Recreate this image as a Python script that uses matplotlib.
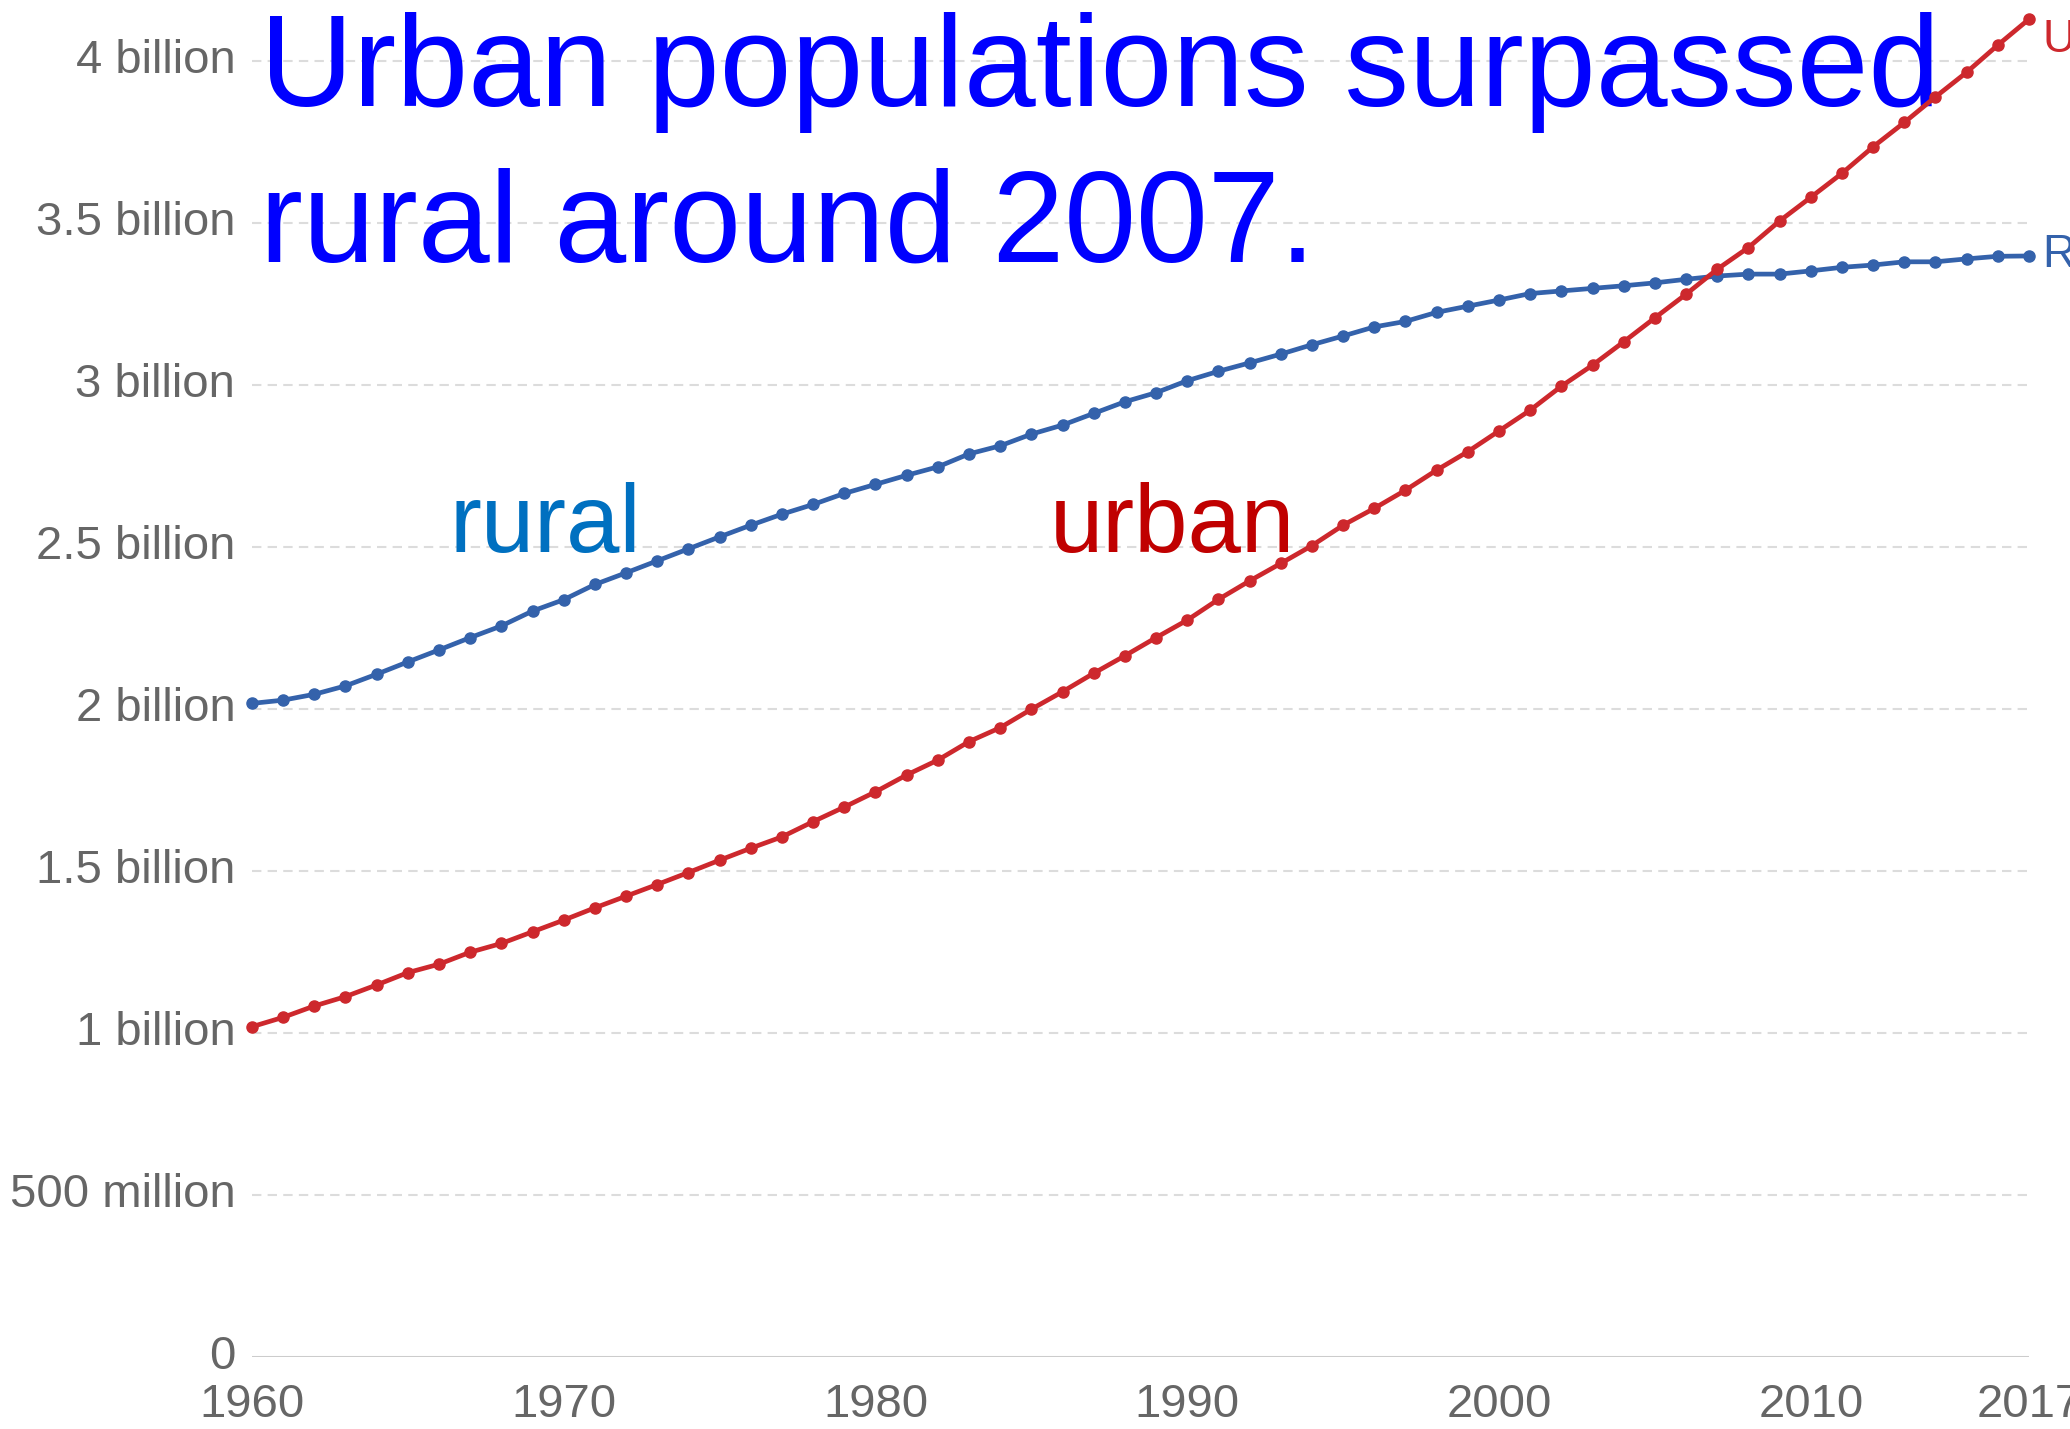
import numpy as np
import matplotlib
matplotlib.use("Agg")
from matplotlib import pyplot as plt

# world urban / rural population, billions, 1960-2017
years = np.arange(1960, 2018)

urban = [1.018, 1.047, 1.082, 1.111, 1.147, 1.185, 1.211, 1.248, 1.275, 1.311,
         1.347, 1.385, 1.421, 1.457, 1.494, 1.532, 1.569, 1.604, 1.651, 1.696,
         1.743, 1.795, 1.841, 1.898, 1.941, 1.998, 2.052, 2.109, 2.163, 2.219,
         2.273, 2.337, 2.394, 2.448, 2.503, 2.566, 2.618, 2.674, 2.736, 2.793,
         2.857, 2.921, 2.995, 3.060, 3.132, 3.206, 3.279, 3.356, 3.423, 3.505,
         3.578, 3.652, 3.734, 3.809, 3.888, 3.964, 4.048, 4.128]

rural = [2.016, 2.026, 2.044, 2.070, 2.106, 2.144, 2.181, 2.219, 2.255, 2.301,
         2.336, 2.383, 2.419, 2.456, 2.493, 2.530, 2.566, 2.600, 2.630, 2.664,
         2.692, 2.720, 2.746, 2.786, 2.811, 2.847, 2.875, 2.911, 2.947, 2.975,
         3.012, 3.041, 3.067, 3.094, 3.123, 3.150, 3.178, 3.195, 3.223, 3.242,
         3.261, 3.281, 3.289, 3.297, 3.305, 3.314, 3.325, 3.335, 3.341, 3.341,
         3.351, 3.362, 3.369, 3.379, 3.379, 3.388, 3.396, 3.397]

x_ticks = [1960, 1970, 1980, 1990, 2000, 2010, 2017]
y_ticks = [0, 0.5, 1, 1.5, 2, 2.5, 3, 3.5, 4]
y_labels = ['0', '500 million', '1 billion', '1.5 billion', '2 billion',
            '2.5 billion', '3 billion', '3.5 billion', '4 billion']

title_lines = ['Urban populations surpassed', 'rural around 2007.']

urban_color = '#cd282d'
rural_color = '#3462ab'

plt.rcParams['font.family'] = ['Liberation Sans', 'DejaVu Sans']

urban_b = np.array(urban) * 1e9
rural_b = np.array(rural) * 1e9

fig = plt.figure(figsize=(20.7, 14.29), dpi=100)
ax = fig.add_axes([0.1217, 0.0507, 0.8585, 0.9409])

ax.set_xlim(1960, 2017)
ax.set_ylim(0, 4.15e9)

# dashed horizontal grid, solid baseline at zero
for v in y_ticks[1:]:
    ax.axhline(v * 1e9, color='#dcdcdc', linewidth=1.5,
               linestyle=(0, (4.5, 3)), zorder=1)
ax.axhline(0, color='#cccccc', linewidth=2.2, zorder=2)

ax.plot(years, rural_b, color=rural_color, linewidth=3.4, marker='o',
        markersize=8, zorder=4, clip_on=False)
ax.plot(years, urban_b, color=urban_color, linewidth=3.4, marker='o',
        markersize=8, zorder=4, clip_on=False)

# series labels at the right end (run off the edge of the figure)
ax.annotate('Urban population', xy=(years[-1], urban_b[-1]),
            xytext=(10, -15), textcoords='offset points', va='center',
            ha='left', fontsize=33, color=urban_color, annotation_clip=False)
ax.annotate('Rural population', xy=(years[-1], rural_b[-1]),
            xytext=(10, 1), textcoords='offset points', va='center',
            ha='left', fontsize=33, color=rural_color, annotation_clip=False)

# in-chart labels
ax.text(1966.35, 2.483e9, 'rural', color='#0070c0', fontsize=69,
        va='baseline', ha='left', zorder=3)
ax.text(1985.6, 2.483e9, 'urban', color='#c00000', fontsize=69,
        va='baseline', ha='left', zorder=3)

# headline: above the grid, under the series lines
ax.text(0.1258, 1 - 106 / 1429, title_lines[0], color='#0000ff',
        fontsize=93, va='baseline', ha='left', zorder=3,
        transform=fig.transFigure)
ax.text(0.1258, 1 - 262 / 1429, title_lines[1], color='#0000ff',
        fontsize=93, va='baseline', ha='left', zorder=3,
        transform=fig.transFigure)

ax.set_xticks(x_ticks)
ax.set_xticklabels([str(x) for x in x_ticks])
ax.set_yticks([v * 1e9 for v in y_ticks])
ax.set_yticklabels(y_labels, va='center')
ax.tick_params(axis='both', length=0, labelsize=34, labelcolor='#666666')
ax.tick_params(axis='x', pad=19)
ax.tick_params(axis='y', pad=12)

for s in ax.spines.values():
    s.set_visible(False)

fig.savefig('out.png', dpi=100)
